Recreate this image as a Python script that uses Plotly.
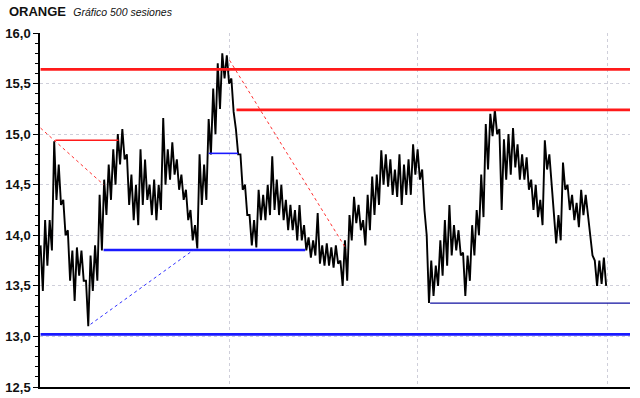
import plotly.graph_objects as go

# Price envelope, one (high, low) pair per 4 sessions (sessions 0..499)
highs = [13.90, 14.15, 14.15, 14.93, 14.70, 14.35, 14.05, 13.85, 13.88, 13.85,
         13.55, 13.80, 13.90, 14.40, 14.55, 14.70, 14.85, 15.00, 15.05, 14.80,
         14.60, 14.50, 14.85, 14.75, 14.50, 14.55, 14.50, 15.16, 14.85, 14.92,
         14.75, 14.60, 14.45, 14.25, 14.10, 14.80, 14.70, 15.15, 15.45, 15.70,
         15.80, 15.78, 15.55, 15.05, 14.80, 14.50, 14.20, 14.15, 14.45, 14.40,
         14.50, 14.78, 14.55, 14.50, 14.35, 14.30, 14.25, 14.30, 14.10, 13.98,
         13.95, 14.22, 13.90, 13.92, 13.88, 13.90, 13.75, 13.95, 14.20, 14.38,
         14.30, 14.15, 14.40, 14.58, 14.60, 14.84, 14.80, 14.75, 14.65, 14.80,
         14.70, 14.75, 14.90, 14.85, 14.65, 14.00, 13.75, 13.70, 13.95, 14.15,
         14.30, 14.10, 14.05, 13.83, 13.80, 14.10, 14.25, 14.60, 15.10, 15.20,
         15.24, 15.05, 14.95, 15.00, 15.06, 14.90, 14.80, 14.77, 14.55, 14.50,
         14.35, 14.94, 14.80, 14.25, 14.20, 14.72, 14.50, 14.40, 14.32, 14.45,
         14.40, 14.05, 13.75, 13.75, 13.78]
lows = [13.45, 13.70, 13.85, 14.35, 14.30, 14.00, 13.55, 13.35, 13.60, 13.55,
        13.10, 13.45, 13.55, 13.85, 14.20, 14.35, 14.50, 14.70, 14.75, 14.30,
        14.15, 14.10, 14.30, 14.35, 14.20, 14.15, 14.25, 14.50, 14.55, 14.60,
        14.45, 14.35, 14.15, 13.95, 13.87, 14.30, 14.35, 14.80, 15.00, 15.25,
        15.55, 15.50, 15.22, 14.80, 14.45, 14.20, 13.90, 13.88, 14.15, 14.15,
        14.20, 14.25, 14.20, 14.15, 14.05, 14.05, 13.95, 13.95, 13.85, 13.78,
        13.80, 13.72, 13.70, 13.70, 13.68, 13.72, 13.50, 13.55, 13.95, 14.12,
        14.05, 13.90, 14.05, 14.20, 14.30, 14.50, 14.48, 14.40, 14.38, 14.30,
        14.40, 14.40, 14.60, 14.55, 14.25, 13.33, 13.40, 13.50, 13.60, 13.70,
        13.80, 13.85, 13.80, 13.40, 13.55, 13.80, 14.00, 14.18, 14.65, 14.98,
        15.00, 14.25, 14.55, 14.60, 14.67, 14.55, 14.55, 14.45, 14.25, 14.18,
        14.10, 14.65, 14.50, 13.92, 13.95, 14.45, 14.25, 14.15, 14.08, 14.20,
        14.20, 13.80, 13.50, 13.52, 13.50]
step = 4

# Support / resistance levels: (value, start session, end session, colour, width)
levels = [
    (15.64, 0, 520, "#ff1a1a", 2.6),
    (15.24, 172.5, 520, "#ff1a1a", 2.6),
    (14.94, 13, 68.5, "#ff1a1a", 1.6),
    (14.81, 148, 174, "#1a1aff", 1.6),
    (13.855, 55.5, 233, "#1a1aff", 2.6),
    (13.02, 0, 520, "#1a1aff", 2.6),
    (13.33, 343, 520, "#1010a0", 1.3),
]
# Trend lines: (x0, y0, x1, y1, colour)
trends = [
    (0, 15.06, 55.5, 14.50, "#ff3030"),
    (166.4, 15.73, 269.4, 13.86, "#ff3030"),
    (44, 13.12, 134.7, 13.855, "#3030ff"),
]

yticks = [12.5, 13.0, 13.5, 14.0, 14.5, 15.0, 15.5, 16.0]
xgrid = [166, 332, 499]

px_x, px_y = [], []
for i, (h, l) in enumerate(zip(highs, lows)):
    px_x += [i * step, i * step + step / 2]
    px_y += [h, l]

fig = go.Figure()
fig.add_trace(go.Scatter(x=px_x, y=px_y, mode="lines",
                         line=dict(color="black", width=1.9),
                         hoverinfo="skip", showlegend=False))

shapes = []
for v, x0, x1, c, w in levels:
    shapes.append(dict(type="line", xref="x", yref="y", x0=x0, x1=x1, y0=v, y1=v,
                       line=dict(color=c, width=w), layer="above"))
for x0, y0, x1, y1, c in trends:
    shapes.append(dict(type="line", xref="x", yref="y", x0=x0, x1=x1, y0=y0, y1=y1,
                       line=dict(color=c, width=1, dash="dot"), layer="above"))

fig.update_layout(
    width=640, height=398,
    margin=dict(l=40, r=10, t=33, b=11, autoexpand=False),
    paper_bgcolor="white", plot_bgcolor="white",
    separators=",.",
    shapes=shapes,
    font=dict(family="Liberation Sans, Arial, sans-serif", color="#111"),
    title=dict(text="<b>ORANGE</b>  <i><span style='font-size:10.5px'>Gráfico 500 sesiones</span></i>",
               xref="container", yref="container", x=0.014, y=0.972,
               xanchor="left", yanchor="middle",
               font=dict(size=13, color="#111")),
    xaxis=dict(range=[-0.5, 519], tickvals=xgrid, showticklabels=False, ticks="",
               showgrid=True, gridcolor="#cfcfda", griddash="dot", gridwidth=1,
               showline=True, linecolor="black", linewidth=1.5, zeroline=False,
               automargin=False, fixedrange=True),
    yaxis=dict(range=[12.5, 16.0], tickvals=yticks, tickformat=".1f",
               ticks="outside", ticklen=5, tickcolor="black", tickwidth=1,
               tickfont=dict(size=13, weight="bold", color="#111"),
               showgrid=True, gridcolor="#cfcfda", griddash="dot", gridwidth=1,
               showline=True, linecolor="black", linewidth=1.5, zeroline=False,
               minor=dict(dtick=0.1, ticks="outside", ticklen=3, tickcolor="black",
                          showgrid=False),
               automargin=False, fixedrange=True),
)

fig.write_html("out.html", config={"displayModeBar": False},
               post_script="document.body.style.margin='0';document.body.style.padding='0';")
